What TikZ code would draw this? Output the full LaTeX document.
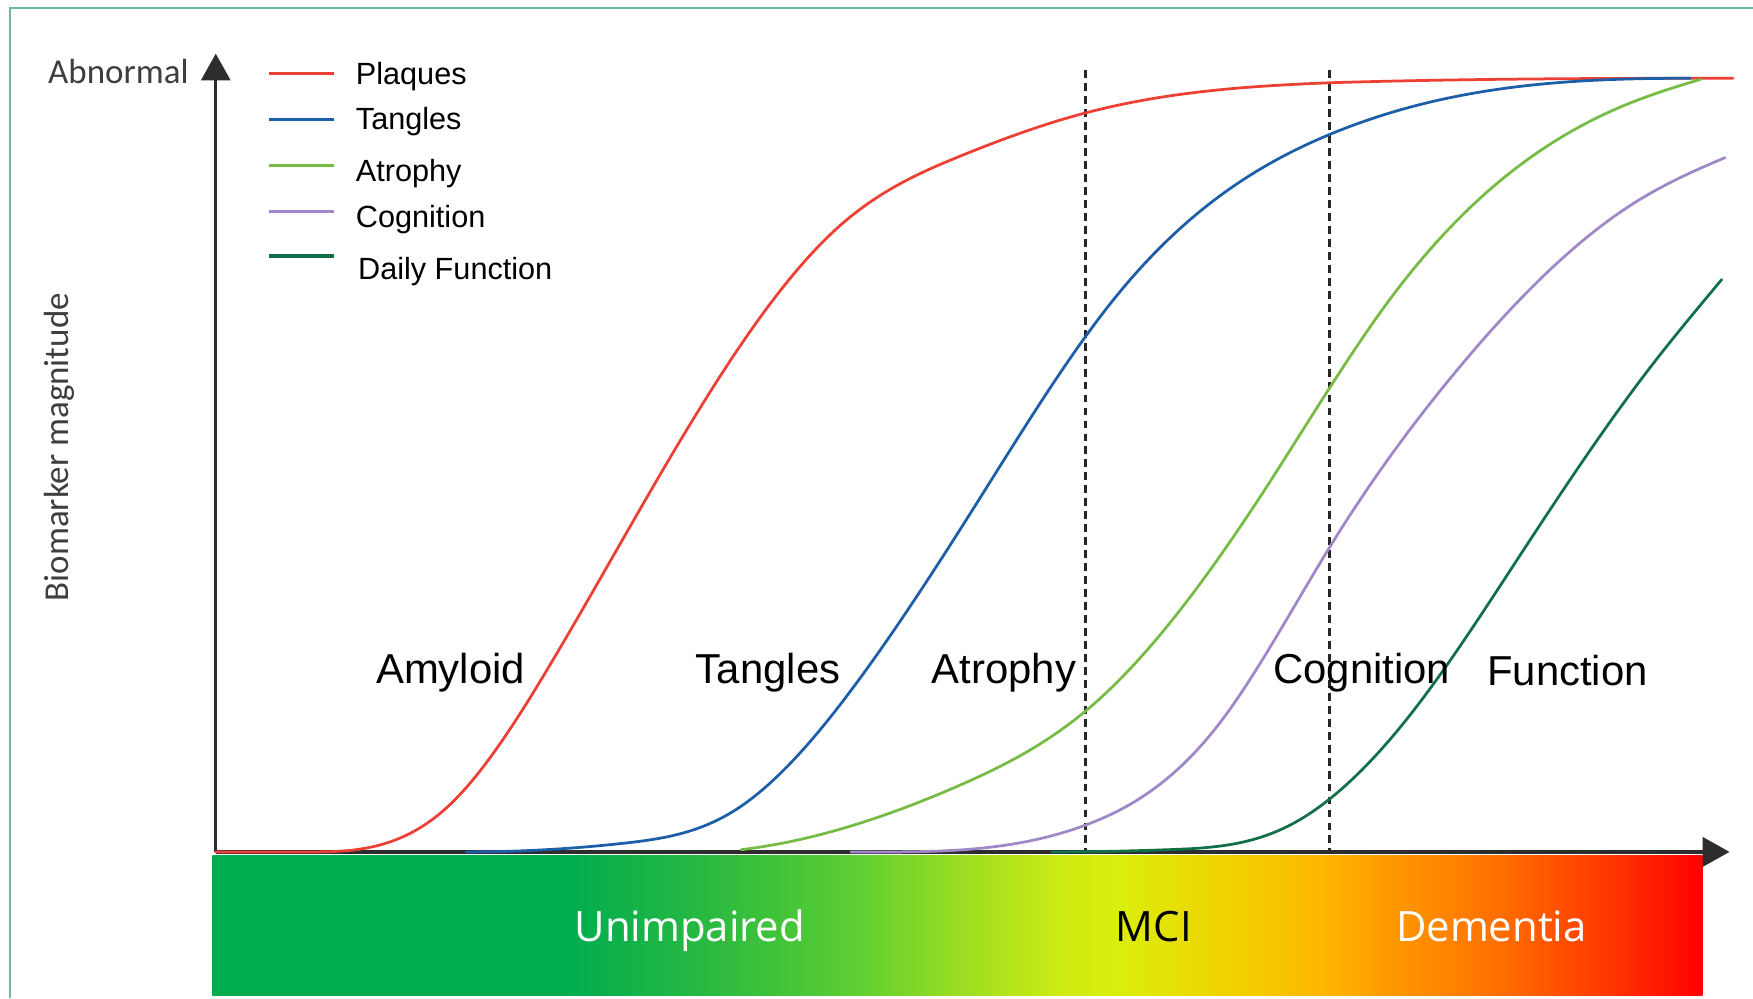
\documentclass[tikz,border=0pt]{standalone}
\usepackage{fontspec}
\setmainfont{Liberation Sans}
\newfontfamily\axisfont{Carlito}
\newfontfamily\stagefont{Open Sans}
\usetikzlibrary{arrows.meta}

% curve colours
\definecolor{plaquered}{RGB}{236,64,52}
\definecolor{tangleblue}{RGB}{28,94,168}
\definecolor{atrophygreen}{RGB}{118,188,68}
\definecolor{cognitionpurple}{RGB}{160,136,200}
\definecolor{functiongreen}{RGB}{18,112,72}
\definecolor{framegreen}{RGB}{112,184,150}
\definecolor{axisgray}{RGB}{45,45,45}
\definecolor{labelgray}{RGB}{62,62,62}

% stage bar colours
\definecolor{stA}{RGB}{0,172,80}
\definecolor{stB}{RGB}{40,185,65}
\definecolor{stC}{RGB}{90,205,50}
\definecolor{stD}{RGB}{150,220,35}
\definecolor{stE}{RGB}{205,235,20}
\definecolor{stF}{RGB}{218,238,12}
\definecolor{stG}{RGB}{240,212,0}
\definecolor{stH}{RGB}{255,180,0}
\definecolor{stI}{RGB}{255,150,0}
\definecolor{stJ}{RGB}{255,110,0}
\definecolor{stK}{RGB}{255,60,0}
\definecolor{stL}{RGB}{255,0,0}

\pgfdeclarehorizontalshading{stagebar}{100bp}{%
  color(0bp)=(stA); color(36.7bp)=(stA); color(41.5bp)=(stB);
  color(46.3bp)=(stC); color(49.8bp)=(stD); color(53.4bp)=(stE);
  color(55.4bp)=(stF); color(58.9bp)=(stG); color(62.5bp)=(stH);
  color(64.8bp)=(stI); color(68.2bp)=(stJ); color(71.5bp)=(stK);
  color(75bp)=(stL); color(100bp)=(stL)}

% Hermite segment (cubic spline piece): from (x0,y0) with slope m0
% to (x1,y1) with slope m1; arguments: x0, y0, m0, x1, y1, m1
\newcommand\bioseg[6]{%
  .. controls ({#1+((#4)-(#1))/3},{#2+(#3)*((#4)-(#1))/3})
  and ({#4-((#4)-(#1))/3},{#5-(#6)*((#4)-(#1))/3}) .. (#4,#5)}

\tikzset{
  biocurve/.style={line width=1.4pt, line cap=round, line join=round},
  legline/.style={line width=1.6pt},
  legtext/.style={anchor=base west, inner sep=0pt, font=\fontsize{15.6}{18}\selectfont},
  stagelabel/.style={anchor=base, inner sep=0pt, font=\fontsize{21.3}{24}\selectfont},
  barlabel/.style={anchor=base, inner sep=0pt, font=\stagefont\fontsize{21.3}{24}\selectfont},
  axisline/.style={line width=1.7pt, color=axisgray},
  dashline/.style={line width=1.3pt, color=black!85, dash pattern=on 4pt off 2.6pt},
}

\begin{document}
\begin{tikzpicture}[x=0.2mm, y=-0.2mm]
\useasboundingbox (0,0) rectangle (1568,893);

% frame
\draw[framegreen, line width=1.2pt] (9,893) -- (9,7) -- (1568,7);

% stage bar
\shade[shading=stagebar] (190,765) rectangle (1523,890);

% key coordinates
\coordinate (O) at (193,762);
\coordinate (ytip) at (193,48);
\coordinate (xtip) at (1547,762);

% stage boundaries
\draw[dashline] (971,63) -- (971,762);
\draw[dashline] (1189,63) -- (1189,762);

% axes
\draw[axisline, -{Triangle[length=4.8mm, width=5.2mm]}] (O) -- (ytip);
\draw[axisline, -{Triangle[length=4.8mm, width=5.2mm]}] (O) -- (xtip);

% biomarker curves (cubic splines)
\draw[biocurve, plaquered] (193,762) -- (280,762)
  \bioseg{280}{762}{0}{400}{722}{-0.917}
  \bioseg{400}{722}{-0.917}{490}{598}{-1.672}
  \bioseg{490}{598}{-1.672}{620}{375}{-1.637}
  \bioseg{620}{375}{-1.637}{750}{203}{-0.895}
  \bioseg{750}{203}{-0.895}{858}{140}{-0.408}
  \bioseg{858}{140}{-0.408}{971}{101}{-0.263}
  \bioseg{971}{101}{-0.263}{1190}{74}{-0.04}
  \bioseg{1190}{74}{-0.03}{1550}{70}{0};

\draw[biocurve, tangleblue] (417,762)
  \bioseg{417}{762}{0}{560}{754}{-0.112}
  \bioseg{560}{754}{-0.112}{657}{725}{-0.628}
  \bioseg{657}{725}{-0.628}{769}{607}{-1.364}
  \bioseg{769}{607}{-1.364}{880}{440}{-1.592}
  \bioseg{880}{440}{-1.592}{996}{268}{-1.245}
  \bioseg{996}{268}{-1.245}{1190}{120}{-0.414}
  \bioseg{1190}{120}{-0.414}{1512}{70}{0};

\draw[biocurve, atrophygreen] (663,760)
  \bioseg{663}{760}{-0.12}{857}{703}{-0.436}
  \bioseg{857}{703}{-0.436}{971}{636}{-0.829}
  \bioseg{971}{636}{-0.829}{1130}{440}{-1.537}
  \bioseg{1130}{440}{-1.537}{1243}{268}{-1.346}
  \bioseg{1243}{268}{-1.346}{1461}{91}{-0.392}
  \bioseg{1461}{91}{-0.392}{1521}{71}{-0.3};

\draw[biocurve, cognitionpurple] (761,762)
  \bioseg{761}{762}{0}{971}{738}{-0.37}
  \bioseg{971}{738}{-0.37}{1090}{648}{-1.293}
  \bioseg{1090}{648}{-1.293}{1189}{490}{-1.626}
  \bioseg{1189}{490}{-1.626}{1300}{335}{-1.211}
  \bioseg{1300}{335}{-1.211}{1461}{182}{-0.634}
  \bioseg{1461}{182}{-0.634}{1543}{141}{-0.42};

\draw[biocurve, functiongreen] (941,762)
  \bioseg{941}{762}{0}{1045}{760}{-0.036}
  \bioseg{1045}{760}{-0.036}{1152}{739}{-0.501}
  \bioseg{1152}{739}{-0.501}{1264}{636}{-1.286}
  \bioseg{1264}{636}{-1.286}{1364}{490}{-1.528}
  \bioseg{1364}{490}{-1.528}{1475}{330}{-1.302}
  \bioseg{1475}{330}{-1.302}{1540}{250}{-1.2};

% axis labels
\node[anchor=base east, inner sep=0pt, text=labelgray,
      font=\axisfont\fontsize{17.8}{20}\selectfont] (abn) at (169,74.5) {Abnormal};
\node[anchor=base, rotate=90, inner sep=0pt, text=labelgray,
      font=\axisfont\fontsize{17.8}{20}\selectfont] (ylab) at (61,400) {Biomarker magnitude};

% legend
\draw[legline, plaquered] (241,66) -- (299,66);
\draw[legline, tangleblue] (241,107) -- (299,107);
\draw[legline, atrophygreen] (241,148) -- (299,148);
\draw[legline, cognitionpurple] (241,189) -- (299,189);
\draw[legline, functiongreen] (241,229) -- (299,229);
\node[legtext] (lgP) at (318,76) {Plaques};
\node[legtext] (lgT) at (318,116) {Tangles};
\node[legtext] (lgA) at (318,162) {Atrophy};
\node[legtext] (lgC) at (318,203.5) {Cognition};
\node[legtext] (lgD) at (320,250) {Daily Function};

% curve labels
\node[stagelabel] (cAmy) at (403,611) {Amyloid};
\node[stagelabel] (cTan) at (687,611) {Tangles};
\node[stagelabel] (cAtr) at (898,611) {Atrophy};
\node[stagelabel] (cCog) at (1218,611) {Cognition};
\node[stagelabel] (cFun) at (1402,613) {Function};

% stage names
\node[barlabel, text=white] (sUn) at (617,842) {Unimpaired};
\node[barlabel, text=black] (sMci) at (1032,842) {MCI};
\node[barlabel, text=white] (sDem) at (1334,842) {Dementia};
\end{tikzpicture}
\end{document}
